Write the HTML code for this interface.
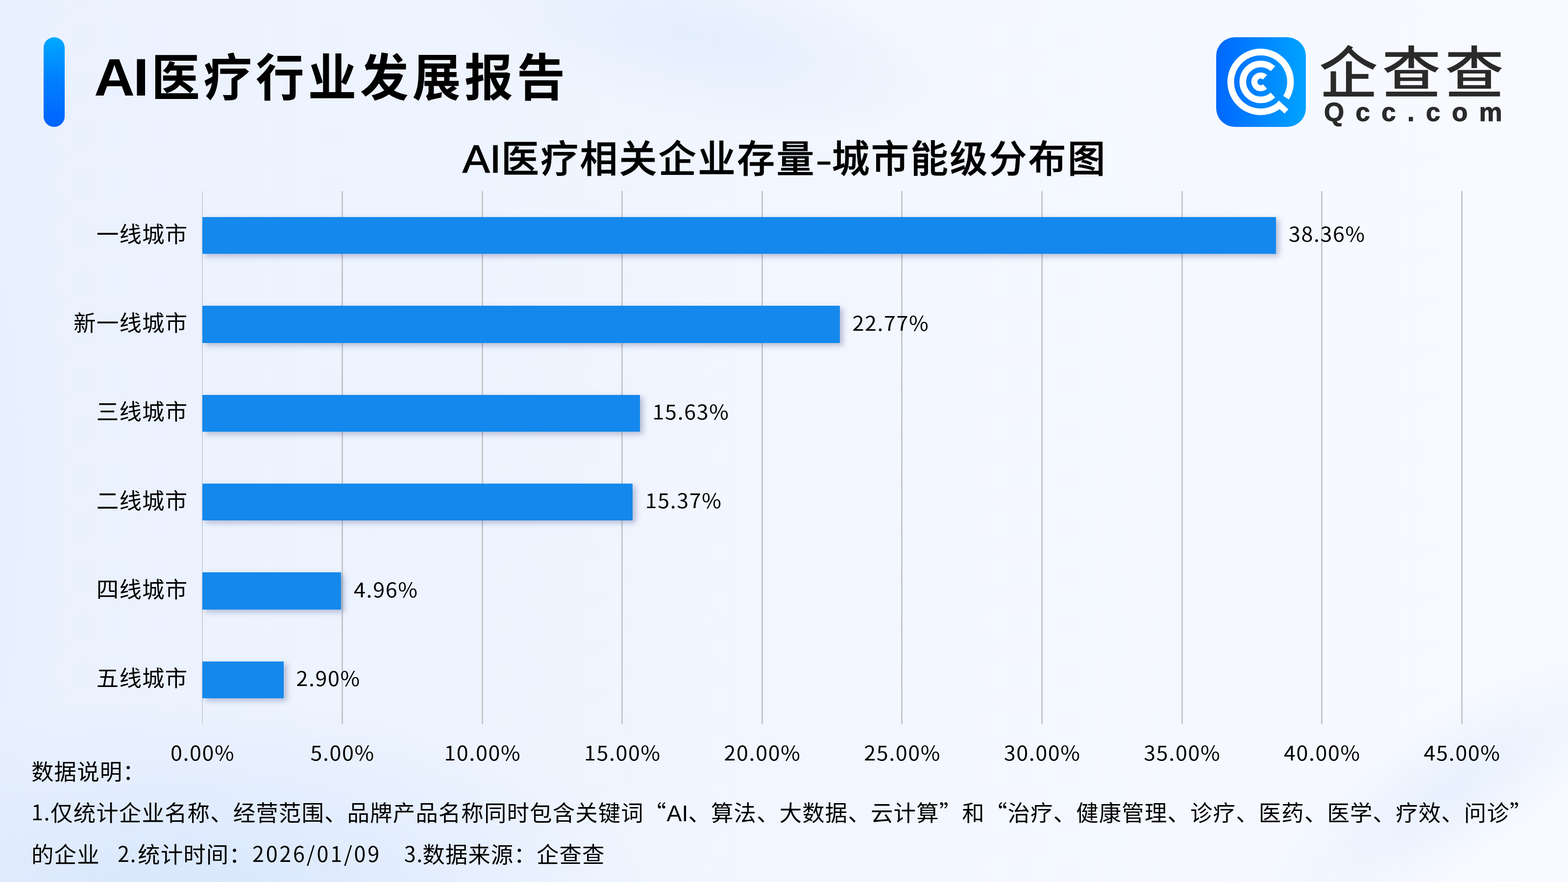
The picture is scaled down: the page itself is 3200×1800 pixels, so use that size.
<!DOCTYPE html>
<html lang="zh-CN">
<head>
<meta charset="utf-8">
<title>AI医疗行业发展报告</title>
<style>
*{margin:0;padding:0;box-sizing:border-box}
html,body{width:3200px;height:1800px;overflow:hidden}
body{
  position:relative;
  font-family:"Liberation Sans","Noto Sans CJK SC",sans-serif;
  color:#000;
  background:
    radial-gradient(ellipse 950px 400px at 380px 1830px, rgba(216,231,252,1), rgba(216,231,252,0) 100%),
    radial-gradient(ellipse 160px 1000px at -40px 1000px, rgba(228,238,253,.6), rgba(228,238,253,0) 100%),
    linear-gradient(90deg,#eaf1fe 0%,#eef4ff 30%,#f3f7ff 60%,#f8faff 100%);
}
.abs{position:absolute;white-space:nowrap}
.band{position:absolute;left:880px;top:-100px;width:1080px;height:350px;transform:rotate(13deg);background:radial-gradient(ellipse 50% 50% at 50% 50%,rgba(228,238,253,1),rgba(228,238,253,.55) 45%,rgba(228,238,253,0) 100%)}
.streak{position:absolute;left:2480px;top:1460px;width:960px;height:300px;transform:rotate(-33deg);background:radial-gradient(ellipse 50% 50% at 50% 50%,rgba(231,240,254,.95),rgba(231,240,254,0) 100%)}
.cjk{font-family:"Noto Sans CJK SC",sans-serif}

/* header */
.accent{position:absolute;left:89px;top:76px;width:43px;height:183px;border-radius:22px;
  background:linear-gradient(180deg,#00a9ff 0%,#0080ff 45%,#0064ff 100%)}
.title{left:192px;top:76.5px;height:150px;line-height:150px;font-weight:700}
.title span{display:inline-block;vertical-align:baseline;transform-origin:0 50%}
.title .lat{font-size:108px;letter-spacing:-3px;transform:scaleX(1.065);width:117px;position:relative;top:-1px}
.title .zh{font-size:103px;letter-spacing:7.95px;transform:scaleX(.96)}

/* logo */
.logo-icon{position:absolute;left:2482px;top:76px;width:183px;height:183px}
.logo-cn{left:2692px;top:67.5px;height:150px;line-height:150px;font-size:120px;font-weight:500;letter-spacing:8.5px;color:#2a2a2a;transform:scaleY(.955);transform-origin:0 26px}
.logo-en{left:2702px;top:198.5px;height:60px;line-height:60px;font-size:53px;font-weight:700;letter-spacing:23.3px;color:#2a2a2a;-webkit-text-stroke:1.1px #2a2a2a}

/* chart */
.ctitle{left:944px;top:264px;height:110px;line-height:110px;font-size:77px;font-weight:500;letter-spacing:3.2px}
.ctitle span{display:inline-block}
.ctitle .lat{font-size:80px;letter-spacing:0;-webkit-text-stroke:1.5px #000;width:79px;transform:scaleX(1.04);transform-origin:0 50%}
.ctitle .zh{-webkit-text-stroke:.9px #000}
.ctitle .dash{font-size:80px;letter-spacing:0;width:33px;text-align:center;transform:scaleX(1.35) translateY(2px)}
.grid{position:absolute;top:390px;height:1088px;width:3px;background:#c5c7cc}
.bar{position:absolute;left:413px;height:75.6px;background:#1488ec;box-shadow:6px 5px 11px rgba(90,105,150,.42)}
.cat{right:2816.5px;height:80px;line-height:80px;font-size:45.5px;letter-spacing:1.2px;text-align:right}
.num{font-family:"Noto Sans CJK SC","Liberation Sans",sans-serif}
.val{height:80px;line-height:80px;font-size:43.1px;letter-spacing:1.6px;transform:scaleY(.955);transform-origin:0 59.8px}
.tick{width:300px;text-align:center;top:1493.2px;height:80px;line-height:80px;font-size:43.1px;letter-spacing:1.6px;transform:scaleY(.955);transform-origin:0 59.8px}

/* footer */
.note{left:64px;height:84px;line-height:84px;font-size:45.5px;letter-spacing:1.07px}
.note .n.date{letter-spacing:3.8px;margin-left:1px}
.note .g1{margin-left:2.5px;margin-right:2px}
.note .g2{margin-left:13px;margin-right:-1.8px}
.note .n{font-family:"Noto Sans CJK SC","Liberation Sans",sans-serif;font-size:43.1px;letter-spacing:1.6px;position:relative;top:-1.7px}
.note .la{font-size:46.5px;letter-spacing:0}
</style>
</head>
<body>
<div class="band"></div>
<div class="streak"></div>

<div class="accent"></div>
<div class="abs title"><span class="lat">AI</span><span class="zh cjk">医疗行业发展报告</span></div>

<svg class="logo-icon" viewBox="0 0 183 183">
  <defs>
    <linearGradient id="lg" x1="0" y1="0" x2="1" y2="0">
      <stop offset="0" stop-color="#0068ff"/>
      <stop offset="1" stop-color="#00a3ff"/>
    </linearGradient>
  </defs>
  <rect x="0" y="0" width="183" height="183" rx="38" ry="38" fill="url(#lg)"/>
  <g fill="none" stroke="#fff" stroke-linecap="butt">
    <path d="M132.4 135.7 A61 61 0 1 1 142.5 123.4" stroke-width="13.6"/>
    <path d="M124.0 133.5 L143.4 151.4" stroke-width="11.6"/>
    <path d="M115.8 117.9 A36.6 36.6 0 1 1 115.8 64.3" stroke-width="13.6"/>
    <path d="M99.6 100.5 A12.9 12.9 0 1 1 99.6 81.7" stroke-width="12.2"/>
  </g>
</svg>
<div class="abs logo-cn cjk">企查查</div>
<div class="abs logo-en">Qcc.com</div>

<div class="abs ctitle"><span class="lat">AI</span><span class="zh cjk">医疗相关企业存量</span><span class="dash">-</span><span class="zh cjk">城市能级分布图</span></div>

<div id="chart">
<div class="grid" style="left:411.8px;width:2px;background:#cfd2d8"></div>
<div class="grid" style="left:696.9px;width:3px"></div>
<div class="grid" style="left:982.5px;width:3px"></div>
<div class="grid" style="left:1268.1px;width:3px"></div>
<div class="grid" style="left:1553.7px;width:3px"></div>
<div class="grid" style="left:1839.3px;width:3px"></div>
<div class="grid" style="left:2124.9px;width:3px"></div>
<div class="grid" style="left:2410.5px;width:3px"></div>
<div class="grid" style="left:2696.1px;width:3px"></div>
<div class="grid" style="left:2981.7px;width:3px"></div>
<div class="bar" style="top:442.9px;width:2191.1px"></div>
<div class="bar" style="top:624.2px;width:1300.6px"></div>
<div class="bar" style="top:805.5px;width:892.8px"></div>
<div class="bar" style="top:986.9px;width:877.9px"></div>
<div class="bar" style="top:1168.2px;width:283.3px"></div>
<div class="bar" style="top:1349.5px;width:165.6px"></div>
<div class="abs cat cjk" style="top:434.7px">一线城市</div>
<div class="abs val num" style="top:434.2px;left:2629.9px">38.36%</div>
<div class="abs cat cjk" style="top:616.0px">新一线城市</div>
<div class="abs val num" style="top:615.5px;left:1739.4px">22.77%</div>
<div class="abs cat cjk" style="top:797.3px">三线城市</div>
<div class="abs val num" style="top:796.8px;left:1331.6px">15.63%</div>
<div class="abs cat cjk" style="top:978.7px">二线城市</div>
<div class="abs val num" style="top:978.2px;left:1316.7px">15.37%</div>
<div class="abs cat cjk" style="top:1160.0px">四线城市</div>
<div class="abs val num" style="top:1159.5px;left:722.1px">4.96%</div>
<div class="abs cat cjk" style="top:1341.3px">五线城市</div>
<div class="abs val num" style="top:1340.8px;left:604.4px">2.90%</div>
<div class="abs tick num" style="left:263.6px">0.00%</div>
<div class="abs tick num" style="left:549.2px">5.00%</div>
<div class="abs tick num" style="left:834.8px">10.00%</div>
<div class="abs tick num" style="left:1120.4px">15.00%</div>
<div class="abs tick num" style="left:1406.0px">20.00%</div>
<div class="abs tick num" style="left:1691.6px">25.00%</div>
<div class="abs tick num" style="left:1977.2px">30.00%</div>
<div class="abs tick num" style="left:2262.8px">35.00%</div>
<div class="abs tick num" style="left:2548.4px">40.00%</div>
<div class="abs tick num" style="left:2834.0px">45.00%</div>
</div>

<div class="abs note" style="top:1535.3px">数据说明：</div>
<div class="abs note" style="top:1614px"><span class="n">1.</span>仅统计企业名称、经营范围、品牌产品名称同时包含关键词<span class="cjk">“</span><span class="la">AI</span>、算法、大数据、云计算<span class="cjk">”</span>和<span class="cjk">“</span>治疗、健康管理、诊疗、医药、医学、疗效、问诊<span class="cjk">”</span></div>
<div class="abs note" style="top:1699.5px">的企业<span class="n g1"> &nbsp; 2.</span>统计时间：<span class="n date">2026/01/09</span><span class="n g2"> &nbsp; 3.</span>数据来源：企查查</div>

</body>
</html>
